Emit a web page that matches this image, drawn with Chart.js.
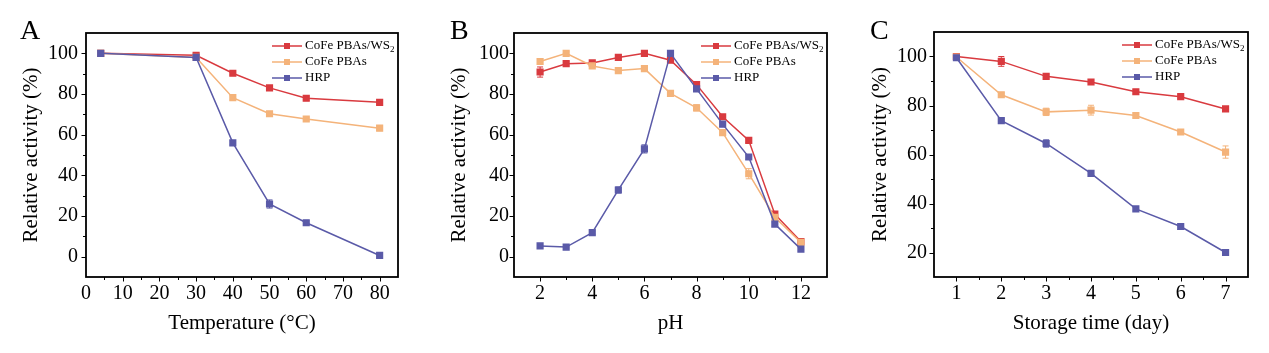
<!DOCTYPE html>
<html>
<head>
<meta charset="utf-8">
<script src="https://cdn.jsdelivr.net/npm/chart.js@4/dist/chart.umd.min.js"></script>
<style>
  body { margin: 0; background: #fff; }
  #wrap { position: relative; width: 1269px; height: 353px; }
  .panel { position: absolute; top: 0; width: 423px; height: 353px; }
  .letter { position: absolute; top: 16px; font: 28px "Liberation Serif", "Times New Roman", serif; line-height: 1; color: #000; }
</style>
</head>
<body>
<div id="wrap">
  <div class="panel" style="left:0"><canvas id="chartA"></canvas></div>
  <div class="panel" style="left:423px"><canvas id="chartB"></canvas></div>
  <div class="panel" style="left:846px"><canvas id="chartC"></canvas></div>
  <div class="letter" style="left:20px">A</div>
  <div class="letter" style="left:450px">B</div>
  <div class="letter" style="left:870px">C</div>
</div>
<script>
const seriesNames = ["CoFe PBAs/WS₂", "CoFe PBAs", "HRP"];
const seriesColors = ["#d93a3f", "#f4b37a", "#5a5aa8"];

// A: thermal stability
const temps = [4, 30, 40, 50, 60, 80];
const tempWS2 = [100, 99, 90.2, 83, 77.9, 75.9];
const tempPBAs = [100, 98, 78.2, 70.3, 67.7, 63.2];
const tempHRP = [100, 98, 56, 25.9, 16.7, 0.6];
const tempErrWS2 = [0.5, 0.8, 0.8, 1, 1, 1];
const tempErrPBAs = [0.5, 0.6, 1, 1, 0.8, 1.2];
const tempErrHRP = [0.5, 0.8, 1, 2, 1, 0.8];
const tempTicks = [0, 10, 20, 30, 40, 50, 60, 70, 80];

// B: pH
const phs = [2, 3, 4, 5, 6, 7, 8, 9, 10, 11, 12];
const phWS2 = [90.8, 94.9, 95.3, 98, 100, 96.6, 84.6, 68.8, 57.2, 20.9, 7.4];
const phPBAs = [96, 100, 93.8, 91.5, 92.5, 80.3, 73.2, 61, 40.8, 19.4, 7];
const phHRP = [5.3, 4.7, 11.8, 32.8, 53, 100, 82.5, 65.2, 49, 16, 3.7];
const phErrWS2 = [2.5, 1, 0.8, 1, 0.6, 1, 1, 1, 1, 1.2, 0.8];
const phErrPBAs = [1.2, 0.8, 0.8, 0.8, 0.8, 1.2, 1.5, 1, 2.5, 1.5, 0.8];
const phErrHRP = [0.5, 0.5, 0.8, 1.5, 2, 0.8, 1, 1.2, 1.2, 1, 0.8];
const phTicks = [2, 4, 6, 8, 10, 12];

// C: storage
const days = [1, 2, 3, 4, 5, 6, 7];
const dayWS2 = [100, 98, 91.9, 89.6, 85.6, 83.6, 78.6];
const dayPBAs = [99.8, 84.4, 77.4, 78.1, 75.9, 69.2, 61];
const dayHRP = [99.5, 73.8, 64.5, 52.3, 37.8, 30.6, 20];
const dayErrWS2 = [0.6, 2, 0.8, 1, 0.8, 0.8, 0.8];
const dayErrPBAs = [0.6, 0.8, 1.5, 2, 0.8, 0.8, 2.5];
const dayErrHRP = [0.6, 0.8, 1.5, 0.8, 0.8, 1.2, 1.2];
const dayTicks = [1, 2, 3, 4, 5, 6, 7];

const activityTicks = [0, 20, 40, 60, 80, 100];
const activityTicksC = [20, 40, 60, 80, 100];

const serif = '"Liberation Serif", "Times New Roman", serif';

// frame, outward tick marks (major + minor), error bars, legend
const decorPlugin = {
  id: "decor",
  beforeDatasetsDraw(chart) {
    let ctx = chart.ctx;
    chart.data.datasets.forEach((ds, i) => {
      if (!ds.errors) return;
      let meta = chart.getDatasetMeta(i);
      let ys = chart.scales.y;
      ctx.save();
      ctx.strokeStyle = ds.borderColor;
      ctx.lineWidth = 1;
      meta.data.forEach((pt, j) => {
        let e = ds.errors[j];
        if (!e) return;
        let v = ds.data[j].y;
        let y1 = ys.getPixelForValue(v + e), y2 = ys.getPixelForValue(v - e);
        ctx.beginPath();
        ctx.moveTo(pt.x, y1); ctx.lineTo(pt.x, y2);
        ctx.moveTo(pt.x - 3, y1); ctx.lineTo(pt.x + 3, y1);
        ctx.moveTo(pt.x - 3, y2); ctx.lineTo(pt.x + 3, y2);
        ctx.stroke();
      });
      ctx.restore();
    });
  },
  afterDraw(chart) {
    let ctx = chart.ctx;
    let a = chart.chartArea;
    let xs = chart.scales.x, ys = chart.scales.y;
    let minor = chart.options.plugins.decor;
    ctx.save();
    ctx.strokeStyle = "#000";
    ctx.lineWidth = 1;
    ctx.beginPath();
    let step = minor.xMinor;
    for (let v = Math.ceil(xs.min / step) * step; v <= xs.max + 1e-9; v += step) {
      if (Math.abs(v - xs.min) < 1e-9 || Math.abs(v - xs.max) < 1e-9) continue;
      let isMajor = xs.ticks.some(t => Math.abs(t.value - v) < 1e-9);
      let x = Math.round(xs.getPixelForValue(v)) + 0.5;
      ctx.moveTo(x, a.bottom); ctx.lineTo(x, a.bottom + (isMajor ? 4.5 : 3));
    }
    step = minor.yMinor;
    for (let v = Math.ceil(ys.min / step) * step; v <= ys.max + 1e-9; v += step) {
      if (Math.abs(v - ys.min) < 1e-9 || Math.abs(v - ys.max) < 1e-9) continue;
      let isMajor = ys.ticks.some(t => Math.abs(t.value - v) < 1e-9);
      let y = Math.round(ys.getPixelForValue(v)) + 0.5;
      ctx.moveTo(a.left, y); ctx.lineTo(a.left - (isMajor ? 4.5 : 3), y);
    }
    ctx.stroke();
    ctx.lineWidth = 1.8;
    ctx.strokeRect(a.left, a.top, a.right - a.left, a.bottom - a.top);

    // legend: line with square marker, then label
    let x0 = a.right - 126;
    chart.data.datasets.forEach((ds, i) => {
      let y = a.top + 13 + i * 16;
      ctx.strokeStyle = ds.borderColor;
      ctx.fillStyle = ds.borderColor;
      ctx.lineWidth = 1.5;
      ctx.beginPath();
      ctx.moveTo(x0, y); ctx.lineTo(x0 + 30, y);
      ctx.stroke();
      ctx.fillRect(x0 + 12, y - 3, 6, 6);
      ctx.fillStyle = "#000";
      ctx.textBaseline = "middle";
      ctx.font = "13px " + serif;
      let parts = ds.label.split("₂");
      ctx.fillText(parts[0], x0 + 33, y);
      if (parts.length > 1) {
        let w = ctx.measureText(parts[0]).width;
        ctx.font = "9px " + serif;
        ctx.fillText("2", x0 + 33 + w, y + 4);
      }
    });
    ctx.restore();
  }
};

function makeChart(id, xs, series, errs, opts) {
  let datasets = series.map((vals, i) => ({
    label: seriesNames[i],
    data: vals.map((v, j) => ({ x: xs[j], y: v })),
    errors: errs[i],
    borderColor: seriesColors[i],
    backgroundColor: seriesColors[i],
    borderWidth: 1.5,
    pointStyle: "rect",
    pointRadius: 4,
    pointHoverRadius: 4,
    order: 3 - i
  }));
  return new Chart(document.getElementById(id), {
    type: "line",
    data: { datasets: datasets },
    plugins: [decorPlugin],
    options: {
      responsive: true,
      maintainAspectRatio: false,
      animation: false,
      layout: { padding: { left: 0, right: opts.padRight, top: opts.padTop, bottom: 0 } },
      plugins: {
        legend: { display: false },
        tooltip: { enabled: false },
        decor: { xMinor: opts.xMinor, yMinor: opts.yMinor }
      },
      scales: {
        x: {
          type: "linear",
          min: opts.xMin, max: opts.xMax,
          afterBuildTicks: s => { s.ticks = opts.xTicks.map(v => ({ value: v })); },
          afterFit: s => { s.height = 353 - opts.bottom; },
          grid: { display: false, drawTicks: false },
          border: { display: false },
          ticks: { padding: 5, color: "#000", font: { family: serif, size: 20 }, maxRotation: 0 },
          title: { display: true, text: opts.xTitle, color: "#000", font: { family: serif, size: 21 }, padding: { top: 0, bottom: 17 } }
        },
        y: {
          min: opts.yMin, max: opts.yMax,
          afterBuildTicks: s => { s.ticks = opts.yTicks.map(v => ({ value: v })); },
          afterFit: s => { s.width = opts.left; },
          grid: { display: false, drawTicks: false },
          border: { display: false },
          ticks: { padding: opts.yPad, color: "#000", font: { family: serif, size: 20 } },
          title: { display: true, text: "Relative activity (%)", color: "#000", font: { family: serif, size: 21 }, padding: { top: opts.yTitlePad, bottom: 0 } }
        }
      }
    }
  });
}

makeChart("chartA", temps, [tempWS2, tempPBAs, tempHRP], [tempErrWS2, tempErrPBAs, tempErrHRP], {
  left: 86, padRight: 25, padTop: 33, bottom: 277,
  xMin: 0, xMax: 85, xTicks: tempTicks, xMinor: 5,
  yMin: -10, yMax: 110, yTicks: activityTicks, yMinor: 10,
  yPad: 8, yTitlePad: 19, xTitle: "Temperature (°C)"
});

makeChart("chartB", phs, [phWS2, phPBAs, phHRP], [phErrWS2, phErrPBAs, phErrHRP], {
  left: 91, padRight: 19, padTop: 33, bottom: 277,
  xMin: 1, xMax: 13, xTicks: phTicks, xMinor: 1,
  yMin: -10, yMax: 110, yTicks: activityTicks, yMinor: 10,
  yPad: 5, yTitlePad: 24, xTitle: "pH"
});

makeChart("chartC", days, [dayWS2, dayPBAs, dayHRP], [dayErrWS2, dayErrPBAs, dayErrHRP], {
  left: 88, padRight: 21, padTop: 32, bottom: 277,
  xMin: 0.5, xMax: 7.5, xTicks: dayTicks, xMinor: 0.5,
  yMin: 10, yMax: 110, yTicks: activityTicksC, yMinor: 10,
  yPad: 7, yTitlePad: 22, xTitle: "Storage time (day)"
});
</script>
</body>
</html>
